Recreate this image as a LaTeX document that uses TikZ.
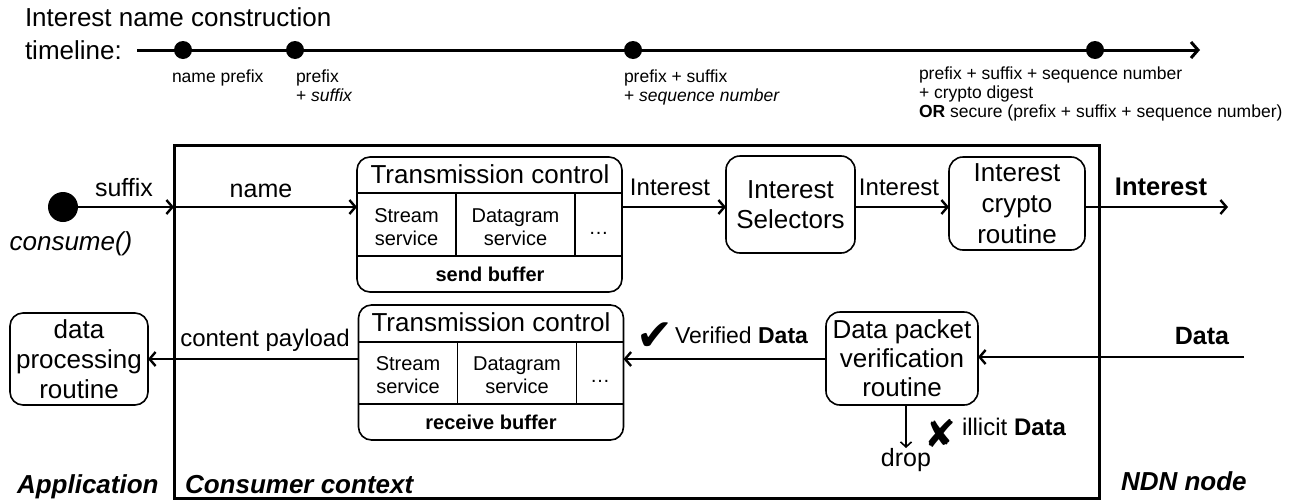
\documentclass[tikz,border=0pt]{standalone}
\usepackage{fontspec}
\setmainfont{Liberation Sans}
\newfontfamily\symbolfont{DejaVu Sans}
\usetikzlibrary{arrows.meta,calc}

\newcommand\fsz[2]{\fontsize{#1pt}{#2pt}\selectfont}

\begin{document}
\begin{tikzpicture}[x=1pt,y=-1pt,
  every node/.style={inner sep=0pt,outer sep=0pt},
  bigtext/.style={font=\fsz{26}{30}},
  labtext/.style={font=\fsz{24}{28}},
  smalltext/.style={font=\fsz{17.5}{19}},
  svctext/.style={font=\fsz{20}{23}},
  roundbox/.style={draw,line width=1.6pt,rounded corners=14pt,align=center,font=\fsz{26}{30}},
  tcbox/.style={draw,line width=1.6pt,rounded corners=13pt,minimum width=265pt,minimum height=135pt},
  divider/.style={line width=1.3pt},
  conn/.style={line width=2.4pt,-{Straight Barb[length=6pt,width=14pt]}},
  thinconn/.style={line width=1.6pt,-{Straight Barb[length=5pt,width=11pt]}},
  tdot/.style={circle,fill=black,minimum size=18pt},
]
\useasboundingbox (0,0) rectangle (1297,501);

% ---------- timeline of the Interest name ----------
\node[bigtext,anchor=base west] (ttl1) at (25,26) {Interest name construction};
\node[bigtext,anchor=base west] (ttl2) at (25,59) {timeline:};
\coordinate (t0) at (137,50);
\coordinate (t1) at (1200,50);
\draw[line width=3pt,-{Straight Barb[length=7pt,width=16pt]}] (t0) -- (t1);
\node[tdot] (d1) at (183,50) {};
\node[tdot] (d2) at (295,50) {};
\node[tdot] (d3) at (633,50) {};
\node[tdot] (d4) at (1095,50) {};

\node[smalltext,anchor=base west] (l1) at (172,82) {name prefix};
\node[smalltext,anchor=base west] (l2a) at (296,82) {prefix};
\node[smalltext,anchor=base west] (l2b) at (296,101) {+ \textit{suffix}};
\node[smalltext,anchor=base west] (l3a) at (624,82) {prefix + suffix};
\node[smalltext,anchor=base west] (l3b) at (624,101) {+ \textit{sequence number}};
\node[smalltext,anchor=base west] (l4a) at (919,79) {prefix + suffix + sequence number};
\node[smalltext,anchor=base west] (l4b) at (919,98) {+ crypto digest};
\node[smalltext,anchor=base west] (l4c) at (919,117) {\textbf{OR} secure (prefix + suffix + sequence number)};

% ---------- consumer context frame ----------
\node[draw,line width=3pt,minimum width=925pt,minimum height=353pt] (ctx) at (636.5,321.5) {};

% ---------- application side ----------
\node[circle,fill=black,minimum size=30pt] (app) at (63,207) {};
\node[bigtext,anchor=base] (consume) at (71,250) {\textit{consume()}};
\node[roundbox,rounded corners=13pt,minimum width=138pt,minimum height=92pt] (proc) at (79,359) {data\\processing\\routine};

% ---------- send path ----------
\node[tcbox] (tcs) at (489.5,224.5) {};
\draw[divider] ($(tcs.north west)+(0,36)$) -- ($(tcs.north east)+(0,36)$);
\draw[divider] ($(tcs.north west)+(0,99)$) -- ($(tcs.north east)+(0,99)$);
\draw[divider] ($(tcs.north west)+(99,36)$) -- ($(tcs.north west)+(99,99)$);
\draw[divider] ($(tcs.north west)+(218,36)$) -- ($(tcs.north west)+(218,99)$);
\node[bigtext,anchor=base] (tcsT) at (490,183) {Transmission control};
\node[svctext,anchor=base] (tcsS1) at (406.5,222) {Stream};
\node[svctext,anchor=base] (tcsS2) at (406.5,245) {service};
\node[svctext,anchor=base] (tcsD1) at (515.5,222) {Datagram};
\node[svctext,anchor=base] (tcsD2) at (515.5,245) {service};
\node[svctext,anchor=base] (tcsE) at (598.5,234) {…};
\node[svctext,anchor=base] (tcsB) at (490,281) {\textbf{send buffer}};

\node[roundbox,minimum width=129pt,minimum height=97pt] (sel) at (790.5,204.5) {Interest\\Selectors};
\node[roundbox,minimum width=136pt,minimum height=93pt,font=\fsz{26}{31}] (cry) at (1017,203.5) {Interest\\crypto\\routine};

% ---------- receive path ----------
\node[tcbox] (tcr) at (491,372.5) {};
\draw[divider] ($(tcr.north west)+(0,37)$) -- ($(tcr.north east)+(0,37)$);
\draw[divider] ($(tcr.north west)+(0,99)$) -- ($(tcr.north east)+(0,99)$);
\draw[divider] ($(tcr.north west)+(99,37)$) -- ($(tcr.north west)+(99,99)$);
\draw[divider] ($(tcr.north west)+(218,37)$) -- ($(tcr.north west)+(218,99)$);
\node[bigtext,anchor=base] (tcrT) at (491,331) {Transmission control};
\node[svctext,anchor=base] (tcrS1) at (408,370) {Stream};
\node[svctext,anchor=base] (tcrS2) at (408,393) {service};
\node[svctext,anchor=base] (tcrD1) at (517,370) {Datagram};
\node[svctext,anchor=base] (tcrD2) at (517,393) {service};
\node[svctext,anchor=base] (tcrE) at (600,382) {…};
\node[svctext,anchor=base] (tcrB) at (491,429) {\textbf{receive buffer}};

\node[roundbox,minimum width=152pt,minimum height=93pt,font=\fsz{26}{29}] (ver) at (902,358.5) {Data packet\\verification\\routine};

% ---------- connectors: Interest path ----------
\coordinate (iout) at (1228,207);
\draw[conn] (app) -- (app -| ctx.west);
\draw[conn] (app -| ctx.west) -- (app -| tcs.west);
\draw[conn] (app -| tcs.east) -- (app -| sel.west);
\draw[conn] (app -| sel.east) -- (app -| cry.west);
\draw[conn] (app -| cry.east) -- (iout);

\node[font=\fsz{25}{28},anchor=base] (lsuf) at (124,196) {suffix};
\node[font=\fsz{25}{28},anchor=base] (lname) at (261,197) {name};
\node[labtext,anchor=base] (li1) at (670,195) {Interest};
\node[labtext,anchor=base] (li2) at (899,195) {Interest};
\node[font=\fsz{25.5}{28},anchor=base] (li3) at (1161,195) {\textbf{Interest}};

% ---------- connectors: Data path ----------
\coordinate (din) at (1244,357);
\coordinate (vy) at (0,359);
\coordinate (drop) at (906,448);
\draw[conn] (din) -- (din -| ver.east);
\draw[conn] (vy -| ver.west) -- (vy -| tcr.east);
\draw[conn] (vy -| tcr.west) -- (vy -| proc.east);
\draw[thinconn] (drop |- ver.south) -- (drop);

\node[font=\fsz{25}{28},anchor=base] (ldata) at (1202,344) {\textbf{Data}};
\node[font=\symbolfont\fsz{44}{44},anchor=base] (chk) at (655,350) {✔};
\node[font=\fsz{23}{27},anchor=base west] (lver) at (675,343) {Verified \textbf{Data}};
\node[labtext,anchor=base] (lpay) at (265,346) {content payload};
\node[font=\fsz{25}{28},anchor=base] (ldrop) at (906,466) {drop};
\node[font=\symbolfont\fsz{38}{38},anchor=base] (xm) at (940,447) {✘};
\node[labtext,anchor=base west] (lill) at (962,435) {illicit \textbf{Data}};

% ---------- area captions ----------
\node[font=\fsz{26}{30}\bfseries\itshape,anchor=base west] (capA) at (17,493) {Application};
\node[font=\fsz{26}{30}\bfseries\itshape,anchor=base west] (capC) at (185,493) {Consumer context};
\node[font=\fsz{26}{30}\bfseries\itshape,anchor=base west] (capN) at (1121,490) {NDN node};
\end{tikzpicture}
\end{document}
